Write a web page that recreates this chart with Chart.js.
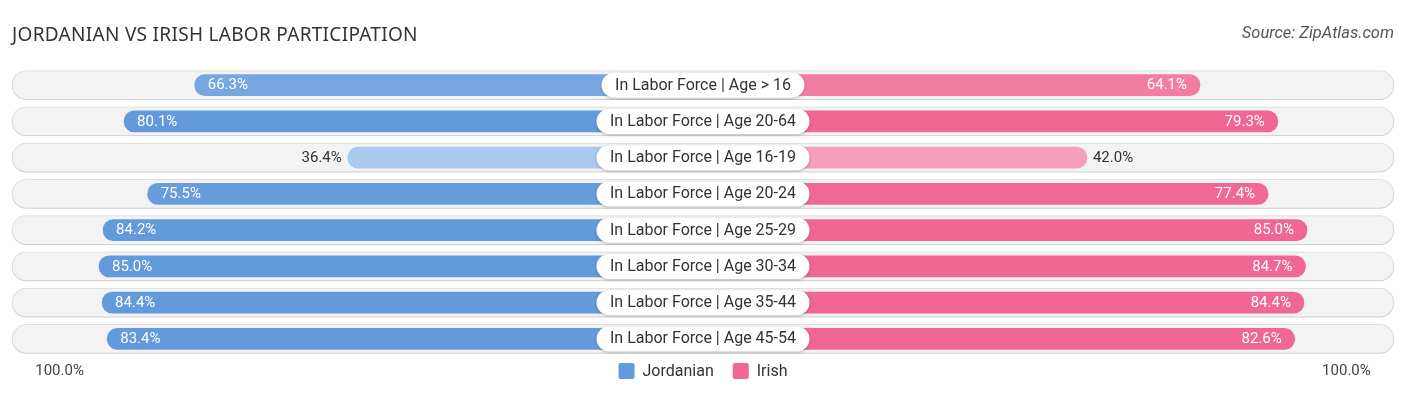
<!DOCTYPE html>
<html>
<head>
<meta charset="utf-8">
<script src="https://cdn.jsdelivr.net/npm/chart.js@4.4.1/dist/chart.umd.min.js"></script>
<style>
  html, body { margin: 0; padding: 0; background: #fff; }
  body { width: 1406px; height: 395px; position: relative; overflow: hidden; font-family: Roboto, sans-serif; }
  #title { position: absolute; left: 12px; top: 21px; font-family: "Noto Sans", sans-serif; font-size: 19px; color: #333; letter-spacing: 0.3px; }
  #source { position: absolute; right: 12px; top: 23px; font-size: 16.5px; font-style: italic; color: #555; }
  #wrap { position: absolute; left: 0; top: 0; width: 1406px; height: 395px; }
</style>
</head>
<body>
<div id="wrap"><canvas id="myChart"></canvas></div>
<div id="title">JORDANIAN VS IRISH LABOR PARTICIPATION</div>
<div id="source">Source: ZipAtlas.com</div>
<script>
const categories = [
  "In Labor Force | Age > 16",
  "In Labor Force | Age 20-64",
  "In Labor Force | Age 16-19",
  "In Labor Force | Age 20-24",
  "In Labor Force | Age 25-29",
  "In Labor Force | Age 30-34",
  "In Labor Force | Age 35-44",
  "In Labor Force | Age 45-54"
];
const jordanian = [66.3, 80.1, 36.4, 75.5, 84.2, 85.0, 84.4, 83.4];
const irish = [64.1, 79.3, 42.0, 77.4, 85.0, 84.7, 84.4, 82.6];
const seriesNames = ["Jordanian", "Irish"];
const axisLabel = "100.0%";

// space (in % units) kept free around the centre for the category pill
const GAP = 33;
const EDGE = 135;

function mix(a, b, t) {
  const r = Math.round(a[0] + (b[0] - a[0]) * t);
  const g = Math.round(a[1] + (b[1] - a[1]) * t);
  const bl = Math.round(a[2] + (b[2] - a[2]) * t);
  return "rgb(" + r + "," + g + "," + bl + ")";
}
const blueLight = [170, 201, 238], blueStrong = [99, 154, 219];
const pinkLight = [247, 168, 193], pinkStrong = [240, 103, 147];
function shade(v, light, strong) {
  if (v === undefined) return mix(light, strong, 1);
  const t = Math.max(0, Math.min(1, (Math.abs(v) - GAP - 36) / (78 - 36)));
  return mix(light, strong, t);
}

const labelsPlugin = {
  id: "labelsPlugin",
  beforeDatasetDraw(chart, args) {
    if (args.index === 2) {
      const ctx = chart.ctx;
      ctx.save();
      ctx.shadowColor = "rgba(0,0,0,0.15)";
      ctx.shadowBlur = 3;
      ctx.shadowOffsetY = 1;
    }
  },
  afterDatasetDraw(chart, args) {
    if (args.index === 2) chart.ctx.restore();
  },
  afterDatasetsDraw(chart) {
    const ctx = chart.ctx;
    const xs = chart.scales.x;
    const cx = xs.getPixelForValue(0);
    const left = chart.getDatasetMeta(0).data;
    const right = chart.getDatasetMeta(1).data;
    ctx.save();
    ctx.textBaseline = "middle";
    categories.forEach((cat, i) => {
      const y = left[i].y;
      ctx.font = "15px Roboto";
      if (jordanian[i] > 50) {
        ctx.fillStyle = "#fff";
        ctx.textAlign = "left";
        ctx.fillText(jordanian[i].toFixed(1) + "%", left[i].x + 13, y + 0.5);
      } else {
        ctx.fillStyle = "#333";
        ctx.textAlign = "right";
        ctx.fillText(jordanian[i].toFixed(1) + "%", left[i].x - 6, y + 0.5);
      }
      if (irish[i] > 50) {
        ctx.fillStyle = "#fff";
        ctx.textAlign = "right";
        ctx.fillText(irish[i].toFixed(1) + "%", right[i].x - 13, y + 0.5);
      } else {
        ctx.fillStyle = "#333";
        ctx.textAlign = "left";
        ctx.fillText(irish[i].toFixed(1) + "%", right[i].x + 6, y + 0.5);
      }
      // category pill
      ctx.font = "16px Roboto";
      const w = ctx.measureText(cat).width + 27;
      const h = 25;
      ctx.save();
      ctx.shadowColor = "rgba(0,0,0,0.25)";
      ctx.shadowBlur = 3;
      ctx.shadowOffsetY = 1;
      ctx.fillStyle = "#fff";
      ctx.beginPath();
      ctx.roundRect(cx - w / 2, y - h / 2, w, h, h / 2);
      ctx.fill();
      ctx.restore();
      ctx.fillStyle = "#333";
      ctx.textAlign = "center";
      ctx.fillText(cat, cx, y + 0.5);
    });
    // 100% axis labels
    const yb = chart.chartArea.bottom + 14;
    ctx.font = "15px Roboto";
    ctx.fillStyle = "#444";
    ctx.textAlign = "left";
    ctx.fillText(axisLabel, xs.getPixelForValue(-(GAP + 100)) + 13, yb);
    ctx.textAlign = "right";
    ctx.fillText(axisLabel, xs.getPixelForValue(GAP + 100) - 13, yb);
    // legend
    ctx.font = "16px Roboto";
    const colors = [mix(blueLight, blueStrong, 1), mix(pinkLight, pinkStrong, 1)];
    const box = 16, gapText = 8, gapItem = 19;
    const widths = seriesNames.map((n) => box + gapText + ctx.measureText(n).width);
    let lx = cx - (widths[0] + gapItem + widths[1]) / 2;
    ctx.textAlign = "left";
    seriesNames.forEach((n, k) => {
      ctx.fillStyle = colors[k];
      ctx.beginPath();
      ctx.roundRect(lx, yb - box / 2, box, box, 2);
      ctx.fill();
      ctx.fillStyle = "#333";
      ctx.fillText(n, lx + box + gapText, yb + 0.5);
      lx += widths[k] + gapItem;
    });
    ctx.restore();
  }
};

new Chart(document.getElementById("myChart"), {
  type: "bar",
  data: {
    labels: categories,
    datasets: [
      {
        label: seriesNames[0],
        data: jordanian.map((v) => -(v + GAP)),
        backgroundColor: (c) => shade(c.raw, blueLight, blueStrong),
        barThickness: 21,
        borderRadius: 11,
        grouped: false,
        order: 1
      },
      {
        label: seriesNames[1],
        data: irish.map((v) => v + GAP),
        backgroundColor: (c) => shade(c.raw, pinkLight, pinkStrong),
        barThickness: 21,
        borderRadius: 11,
        grouped: false,
        order: 1
      },
      {
        label: "bg",
        data: categories.map(() => [-EDGE, EDGE]),
        backgroundColor: "#f3f3f3",
        borderColor: "#e4e4e4",
        borderWidth: 1,
        borderSkipped: false,
        barThickness: 29,
        borderRadius: 15,
        grouped: false,
        clip: false,
        order: 2
      }
    ]
  },
  options: {
    indexAxis: "y",
    responsive: true,
    maintainAspectRatio: false,
    animation: false,
    layout: { padding: { left: 12, right: 12, top: 67, bottom: 38 } },
    scales: {
      x: { display: false, min: -EDGE, max: EDGE },
      y: { display: false }
    },
    plugins: {
      tooltip: { enabled: false },
      legend: { display: false }
    }
  },
  plugins: [labelsPlugin]
});
</script>
</body>
</html>
